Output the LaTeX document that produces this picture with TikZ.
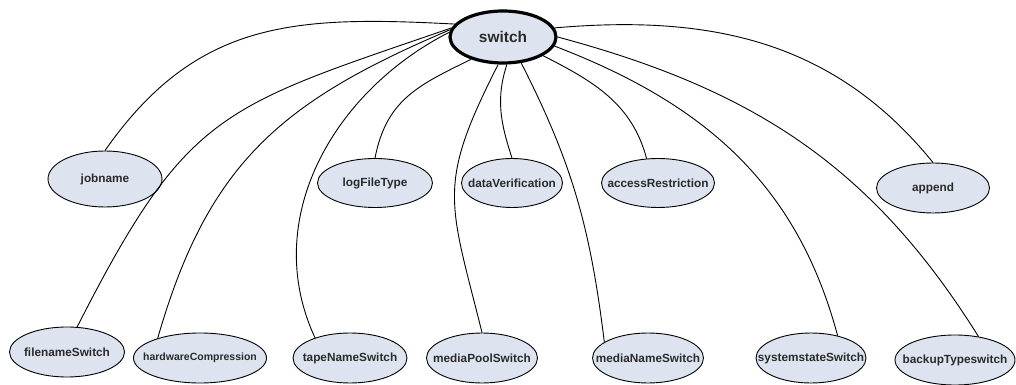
\documentclass[tikz,border=0pt]{standalone}
\usepackage{fontspec}
\setmainfont{Liberation Sans}
\usetikzlibrary{shapes.geometric}
\definecolor{optfill}{HTML}{DDE4F0}
\definecolor{opttext}{HTML}{2A2A2A}

\begin{document}
\begin{tikzpicture}[
  x=1pt, y=1pt,
  opt/.style={ellipse, draw, line width=0.9pt, fill=optfill,
    minimum width=#1, minimum height=50, inner sep=0pt},
  every label/.style={font=\bfseries\fontsize{11.8}{13}\selectfont,
    text=opttext, inner sep=0pt},
  link/.style={line width=0.9pt}
]
\useasboundingbox (0,0) rectangle (1016,385);

% root
\node[opt=106, minimum height=52, line width=3.2pt,
  label={[font=\bfseries\fontsize{15.5}{17}\selectfont]center:switch}] (sw) at (503,348) {};

% middle row
\node[opt=114, minimum height=56, label=center:jobname] (job) at (105,206) {};
\node[opt=115, minimum height=49, label=center:logFileType] (log) at (375,202) {};
\node[opt=101, minimum height=49, label=center:dataVerification] (dat) at (512,202) {};
\node[opt=113, minimum height=49, label=center:accessRestriction] (acc) at (658,202) {};
\node[opt=113, label=center:append] (app) at (933,197) {};

% bottom row
\node[opt=115, label=center:filenameSwitch] (fil) at (67,33) {};
\node[opt=133, label={[font=\bfseries\fontsize{10.5}{12}\selectfont]center:hardwareCompression}] (hwc) at (200,27) {};
\node[opt=114, label=center:tapeNameSwitch] (tap) at (350,27) {};
\node[opt=111, label=center:mediaPoolSwitch] (mpl) at (482,27) {};
\node[opt=111, label=center:mediaNameSwitch] (mnm) at (648,27) {};
\node[opt=110, label=center:systemstateSwitch] (sys) at (811,27) {};
\node[opt=120, label=center:backupTypeswitch] (bkp) at (955,25) {};

% links from the root
\draw[link] (sw.165) to[out=177, in=55, looseness=1.1] (job.north);
\draw[link] (sw.170) to[out=199, in=63, looseness=1.3] (fil.68);
\draw[link] (sw.172) to[out=203, in=74, looseness=1.1] (hwc.155);
\draw[link] (sw.175) to[out=207, in=115] (tap.150);
\draw[link] (sw.215) to[out=206, in=79, looseness=1.1] (log.north);
\draw[link] (sw.260) to[out=243, in=104, looseness=1.3] (mpl.north);
\draw[link] (sw.278) to[out=252, in=108] (dat.north);
\draw[link] (sw.305) to[out=297, in=97] (mnm.160);
\draw[link] (sw.335) to[out=333, in=105] (acc.115);
\draw[link] (sw.350) to[out=339, in=105] (sys.40);
\draw[link] (sw.east) to[out=345, in=122] (bkp.45);
\draw[link] (sw.10) to[out=5, in=129] (app.north);
\end{tikzpicture}
\end{document}
